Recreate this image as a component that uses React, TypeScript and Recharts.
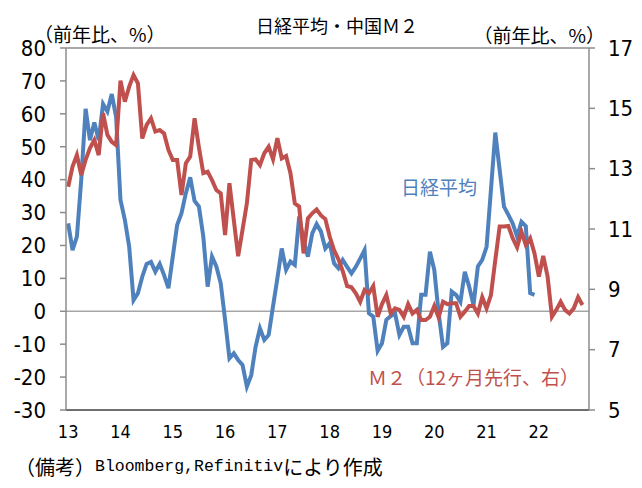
import { ComposedChart, Line, XAxis, YAxis, ReferenceLine } from "recharts";

const YEAR_LABELS = ["13", "14", "15", "16", "17", "18", "19", "20", "21", "22"];
const YEAR_TICKS = [0, 12, 24, 36, 48, 60, 72, 84, 96, 108];
const LEFT_TICKS = [-30, -20, -10, 0, 10, 20, 30, 40, 50, 60, 70, 80];
const RIGHT_TICKS = [5, 7, 9, 11, 13, 15, 17];

// 日経平均 前年比 (%), 2013/1 - 2021/12
const NIKKEI = [
  26.7, 18.6, 22.7, 40, 61.5, 52, 57.4, 52, 63, 60.7, 66, 59,
  33.8, 27.8, 19.6, 3.4, 5.5, 10.5, 14.4, 15, 12, 14.4, 11, 7,
  16.6, 26.2, 29.8, 35.9, 40.7, 33.5, 31.8, 22.7, 7.5, 16.6, 13.6, 8.5,
  -2.6, -14.3, -12.8, -14.8, -16.3, -22.9, -19.4, -10.8, -5.2, -8.7, -7.2, 1.5,
  10, 19.1, 12.6, 15.1, 14.1, 28.8, 21.7, 16.6, 23.7, 26.5, 24.2, 19.1,
  20.7, 14.6, 13.1, 15.6, 13.5, 11.5, 13.5, 16, 18.6, -0.6, -1.6, -12,
  -9.7, -2.6, -1.5, -0.6, -7.2, -4.7, -4.7, -9.7, -9.7, 5, 5, 18.1,
  12.6, -0.6, -10.8, -9.7, 6, 5, 2.9, 12, 7.5, 1.9, 13.6, 15.6,
  19.6, 36.9, 54.3, 42.9, 31.8, 29.3, 26.7, 22.7, 27.2, 25.9, 5.5, 5,
];

// 中国M2 前年比 (%), 12ヶ月先行
const M2 = [
  12.4, 13.07, 13.45, 12.79, 13.29, 13.68, 13.95, 13.45, 14.84, 14.12, 13.89, 13.78,
  15.92, 15.22, 15.72, 16.1, 15.83, 14.0, 14.45, 14.67, 14.23, 14.28, 14.17, 13.62,
  13.29, 13.29, 12.13, 13.18, 13.4, 14.67, 13.7, 12.85, 12.9, 12.62, 12.29, 12.18,
  10.8, 12.52, 11.3, 10.1, 10.97, 11.85, 13.29, 13.31, 13.12, 13.51, 13.73, 13.31,
  14.01, 13.34, 13.42, 12.85, 11.85, 11.74, 10.19, 11.35, 11.52, 11.65, 11.45, 11.33,
  10.75, 10.3, 10.0, 9.6, 9.11, 9.07, 8.87, 8.59, 8.98, 8.87, 9.11, 8.09,
  8.51, 8.81, 8.2, 8.37, 8.32, 8.09, 8.51, 8.2, 8.32, 7.98, 7.98, 8.09,
  8.45, 8.07, 8.59, 8.51, 8.54, 8.54, 8.09, 8.26, 8.45, 8.45, 8.2, 8.74,
  8.37, 8.81, 9.97, 11.08, 11.08, 11.1, 10.69, 10.39, 10.91, 10.47, 10.69, 10.19,
  9.42, 10.11, 9.42, 8.09, 8.32, 8.59, 8.32, 8.2, 8.37, 8.74, 8.48,
];

const BLUE = "#4F81BD";
const RED = "#C0504D";
const AXIS = "#8C8C8C";
const NUM_FONT = "'Liberation Sans Narrow', 'DejaVu Sans Condensed', sans-serif";
const JP_FONT = "'Noto Sans CJK JP', sans-serif";

const data = M2.map((v, i) => ({
  m: i,
  m2: v,
  nikkei: i < NIKKEI.length ? NIKKEI[i] : null,
}));

export default function App() {
  return (
    <div style={{ position: "absolute", left: 0, top: 0, width: 642, height: 488, background: "#fff" }}>
      <ComposedChart width={642} height={488} data={data} margin={{ top: 48, right: 0, bottom: 0, left: 0 }}>
        <XAxis
          dataKey="m"
          type="number"
          domain={[-0.5, 119.5]}
          ticks={YEAR_TICKS}
          tickFormatter={(v: number) => YEAR_LABELS[YEAR_TICKS.indexOf(v)]}
          height={78}
          tickSize={0}
          tickMargin={15}
          stroke="#404040"
          strokeWidth={1.5}
          tick={{ fill: "#000", fontSize: 18, fontFamily: NUM_FONT }}
        />
        <YAxis
          yAxisId="l"
          domain={[-30, 80]}
          ticks={LEFT_TICKS}
          width={66}
          tickSize={6}
          tickMargin={14}
          stroke={AXIS}
          strokeWidth={1.5}
          tick={{ fill: "#000", fontSize: 22, fontFamily: NUM_FONT }}
        />
        <YAxis
          yAxisId="r"
          orientation="right"
          domain={[5, 17]}
          ticks={RIGHT_TICKS}
          width={53}
          tickSize={6}
          tickMargin={13}
          stroke={AXIS}
          strokeWidth={1.5}
          tick={{ fill: "#000", fontSize: 22, fontFamily: NUM_FONT }}
        />
        <ReferenceLine yAxisId="l" y={80} stroke={AXIS} strokeWidth={1.5} />
        <ReferenceLine yAxisId="l" y={0} stroke="#a6a6a6" strokeWidth={1.5} />
        <Line
          yAxisId="l"
          dataKey="nikkei"
          type="linear"
          stroke={BLUE}
          strokeWidth={4}
          dot={false}
          isAnimationActive={false}
        />
        <Line
          yAxisId="r"
          dataKey="m2"
          type="linear"
          stroke={RED}
          strokeWidth={4}
          dot={false}
          isAnimationActive={false}
        />
      </ComposedChart>
      <svg
        width={642}
        height={488}
        style={{ position: "absolute", left: 0, top: 0, pointerEvents: "none" }}
      >
        <text x={337} y={25} textAnchor="middle" dominantBaseline="central" fontSize={18} fontFamily={JP_FONT}>
          日経平均・中国Ｍ２
        </text>
        <text x={34} y={33} dominantBaseline="central" fontSize={19} fontFamily={JP_FONT}>
          （前年比、%）
        </text>
        <text x={605} y={34} textAnchor="end" dominantBaseline="central" fontSize={19} fontFamily={JP_FONT}>
          （前年比、%）
        </text>
        <text x={401} y={186} dominantBaseline="central" fontSize={19} fontFamily={JP_FONT} fill={BLUE}>
          日経平均
        </text>
        <text x={368} y={376} dominantBaseline="central" fontSize={19} fontFamily={JP_FONT} fill={RED}>
          Ｍ２（12ヶ月先行、右）
        </text>
        <text x={15} y={466} dominantBaseline="central">
          <tspan fontSize={20} fontFamily={JP_FONT}>（備考）</tspan>
          <tspan fontSize={16.5} fontFamily="'Liberation Mono', 'DejaVu Sans Mono', monospace">Bloomberg,Refinitiv</tspan>
          <tspan fontSize={20} fontFamily={JP_FONT}>により作成</tspan>
        </text>
      </svg>
    </div>
  );
}
